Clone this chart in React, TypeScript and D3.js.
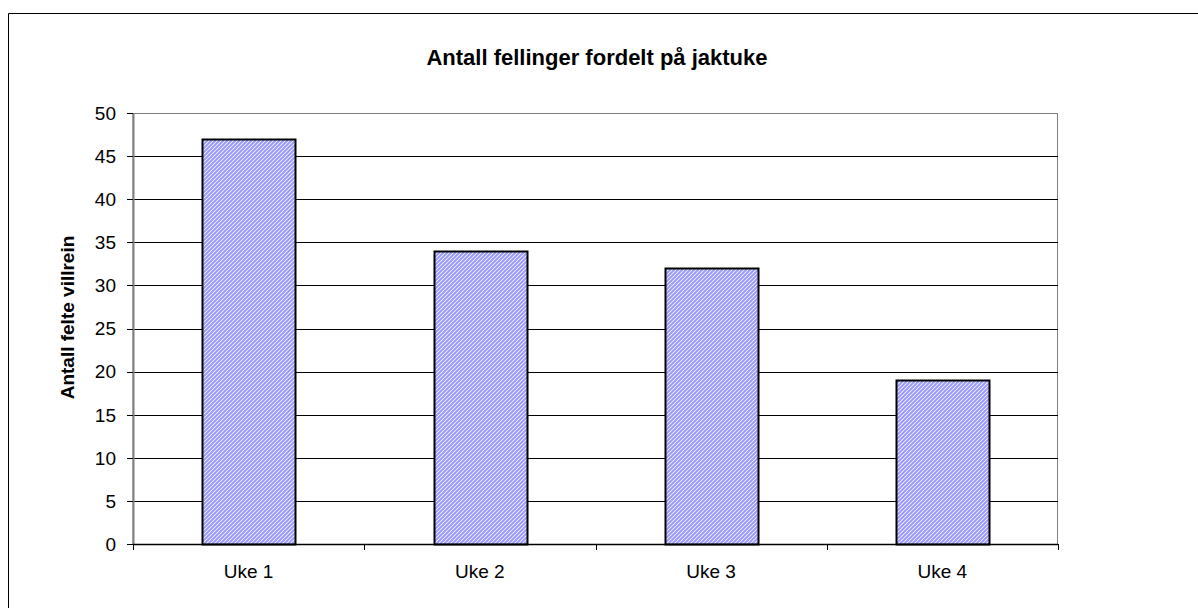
import React, { useEffect, useRef } from "react";
import * as d3 from "d3";

const categories = ["Uke 1", "Uke 2", "Uke 3", "Uke 4"];
const values = [47, 34, 32, 19];
const yTicks = [0, 5, 10, 15, 20, 25, 30, 35, 40, 45, 50];

const App = () => {
  const ref = useRef<SVGSVGElement>(null);

  useEffect(() => {
    const width = 1198;
    const height = 608;
    const m = { left: 133, top: 113, right: 1058, bottom: 544 };
    const font = "'Liberation Sans', Arial, sans-serif";

    const svg = d3.select(ref.current)
      .attr("width", width)
      .attr("height", height);
    svg.selectAll("*").remove();

    const defs = svg.append("defs");
    const pat = defs.append("pattern")
      .attr("id", "hatch")
      .attr("patternUnits", "userSpaceOnUse")
      .attr("width", 4)
      .attr("height", 4);
    pat.append("rect").attr("width", 4).attr("height", 4).attr("fill", "#ffffff");
    pat.append("path")
      .attr("d", "M-1,1 l2,-2 M0,4 l4,-4 M3,5 l2,-2")
      .attr("stroke", "#9999ff")
      .attr("stroke-width", 2);

    // outer frame (only top and left edges fall inside the picture)
    svg.append("path")
      .attr("d", `M8.5,${height} V13.5 H${width}`)
      .attr("fill", "none").attr("stroke", "#000");

    const x = d3.scaleBand().domain(categories).range([m.left, m.right]);
    const y = d3.scaleLinear().domain([0, 50]).range([m.bottom, m.top]);

    // plot area border
    svg.append("rect")
      .attr("x", m.left).attr("y", m.top + 0.5)
      .attr("width", m.right - m.left - 0.5).attr("height", m.bottom - m.top)
      .attr("fill", "none").attr("stroke", "#808080");

    // gridlines
    svg.append("g").selectAll("line")
      .data(yTicks.filter(t => t > 0 && t < 50))
      .enter().append("line")
      .attr("x1", m.left).attr("x2", m.right)
      .attr("y1", d => Math.round(y(d)) + 0.5)
      .attr("y2", d => Math.round(y(d)) + 0.5)
      .attr("stroke", "#000");

    // bars
    const bw = x.bandwidth() * 0.4;
    svg.append("g").selectAll("rect")
      .data(values)
      .enter().append("rect")
      .attr("x", (d, i) => Math.round(x(categories[i])! + x.bandwidth() / 2 - bw / 2) + 0.5)
      .attr("y", d => Math.round(y(d)) + 0.5)
      .attr("width", Math.round(bw))
      .attr("height", d => Math.round(y(0)) - Math.round(y(d)))
      .attr("fill", "url(#hatch)")
      .attr("stroke", "#000")
      .attr("stroke-width", 2);

    // y axis
    svg.append("line")
      .attr("x1", m.left + 0.5).attr("x2", m.left + 0.5)
      .attr("y1", m.top).attr("y2", m.bottom)
      .attr("stroke", "#808080").attr("stroke-width", 2);
    const yt = svg.append("g");
    yt.selectAll("line").data(yTicks).enter().append("line")
      .attr("x1", m.left - 6).attr("x2", m.left)
      .attr("y1", d => Math.round(y(d)) + 0.5)
      .attr("y2", d => Math.round(y(d)) + 0.5)
      .attr("stroke", "#000");
    yt.selectAll("text").data(yTicks).enter().append("text")
      .attr("x", m.left - 17)
      .attr("y", d => y(d))
      .attr("dy", "0.36em")
      .attr("text-anchor", "end")
      .attr("font-family", font)
      .attr("font-size", 19)
      .text(d => d);

    // x axis
    svg.append("line")
      .attr("x1", m.left).attr("x2", m.right)
      .attr("y1", m.bottom + 0.5).attr("y2", m.bottom + 0.5)
      .attr("stroke", "#000").attr("stroke-width", 1.5);
    const xt = svg.append("g");
    xt.selectAll("line").data(d3.range(categories.length + 1)).enter().append("line")
      .attr("x1", i => Math.round(m.left + i * x.step()) + 0.5)
      .attr("x2", i => Math.round(m.left + i * x.step()) + 0.5)
      .attr("y1", m.bottom).attr("y2", m.bottom + 6)
      .attr("stroke", "#000");
    xt.selectAll("text").data(categories).enter().append("text")
      .attr("x", d => x(d)! + x.bandwidth() / 2)
      .attr("y", 578)
      .attr("text-anchor", "middle")
      .attr("font-family", font)
      .attr("font-size", 19)
      .text(d => d);

    // title
    svg.append("text")
      .attr("x", 597).attr("y", 65)
      .attr("text-anchor", "middle")
      .attr("font-family", font)
      .attr("font-size", 22)
      .attr("font-weight", "bold")
      .text("Antall fellinger fordelt på jaktuke");

    // y label
    svg.append("text")
      .attr("transform", `translate(74, ${(m.top + m.bottom) / 2 - 11}) rotate(-90)`)
      .attr("text-anchor", "middle")
      .attr("font-family", font)
      .attr("font-size", 19)
      .attr("font-weight", "bold")
      .text("Antall felte villrein");
  }, []);

  return <svg ref={ref} style={{ position: "absolute", left: 0, top: 0 }}></svg>;
};

export default App;
